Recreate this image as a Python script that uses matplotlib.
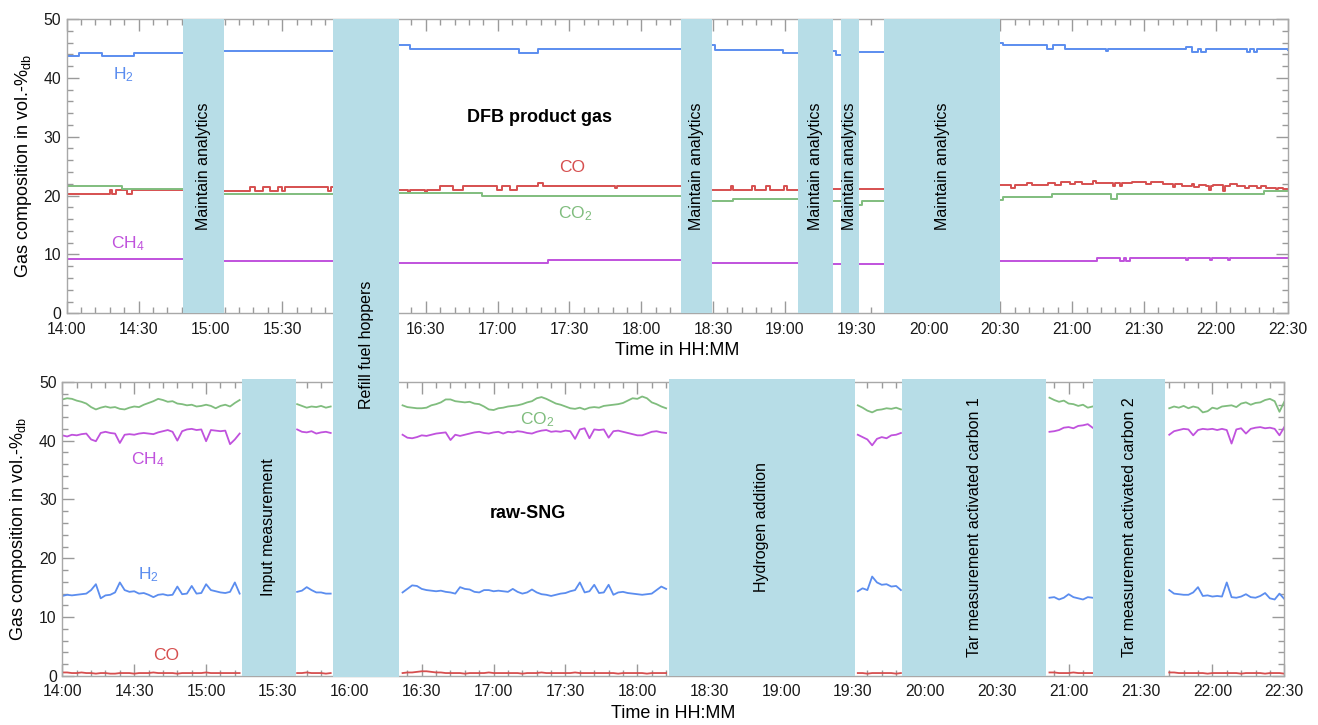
import numpy as np
import matplotlib
matplotlib.use("Agg")
import matplotlib.pyplot as plt
from matplotlib.patches import Rectangle
from matplotlib.ticker import MultipleLocator, FuncFormatter
from matplotlib.transforms import blended_transform_factory

N = np.nan
plt.rcParams['font.family'] = ['Liberation Sans', 'DejaVu Sans']
plt.rcParams['mathtext.fontset'] = 'custom'
plt.rcParams['mathtext.rm'] = 'Liberation Sans'
plt.rcParams['mathtext.it'] = 'Liberation Sans:italic'
plt.rcParams['mathtext.bf'] = 'Liberation Sans:bold'

# ---------------- data (time in minutes after 14:00) ----------------
# DFB product gas (step-like signals), NaN = gap
top_h2_t = [0, 5, 14.6, 28, 48.7, N, 65.6, 111.3, N, 138.9, 143.5, 189, 197, 256.6, N,
            269.6, 271, 299.3, 305.6, N, 319.9, 321.5, 323.3, N, 330.8, 341.5, N,
            389.9, 391, 409.4, 412, 417, 434, 435, 467.5, 469.9, 472.7, 474, 476,
            492.9, 494.2, 496, 497, 510]
top_h2_v = [43.7, 44.3, 43.7, 44.3, 44.3, N, 44.6, 44.6, N, 45.6, 44.9, 44.3, 44.9, 44.9, N,
            45.5, 44.8, 44.2, 44.2, N, 44.5, 43.9, 43.9, N, 44.4, 44.4, N,
            46.0, 45.6, 44.9, 45.6, 44.9, 44.5, 44.9, 45.3, 44.4, 44.9, 44.4, 44.9,
            44.4, 44.9, 44.4, 44.9, 44.7]

top_co_t = [0, 18.1, 19, 20.5, 25, 27.1, 48.7, N,
            65.6, 76.6, 78.7, 82.1, 84.9, 88.4, 89.8, 91.2, 109.3, 110.5, 111.3, N,
            138.9, 142.5, 143.3, 149.8, 150.6, 155.9, 161.5, 165.7, 179.6, 181.7, 185.2,
            188, 197, 199.1, 229, 229.8, 256.6, N,
            269.6, 277.5, 278.4, 286.3, 287.4, 292, 293.6, 299.6, 300.8, 305.6, N,
            319.9, 323.3, N, 330.8, 341.5, N,
            389.9, 394.5, 396, 401, 403, 410, 413, 415.5, 419, 421, 424, 428.5, 430, 436,
            437, 438, 440, 441, 445, 451, 453, 458, 462, 463, 466, 470, 471, 473, 476,
            477, 478, 479, 483, 484, 486, 489, 492, 494, 497, 499, 501, 505, 506, 508, 510]
top_co_v = [20.35, 20.9, 20.35, 20.9, 20.35, 20.9, 20.9, N,
            20.8, 21.4, 20.8, 21.4, 20.8, 21.4, 20.8, 21.4, 20.8, 21.4, 21.4, N,
            21.0, 20.6, 21.0, 20.6, 21.0, 21.6, 21.0, 21.6, 21.0, 21.6, 21.0,
            21.6, 22.2, 21.6, 21.2, 21.6, 21.6, N,
            21.0, 21.6, 21.0, 21.6, 21.0, 21.6, 21.0, 21.6, 21.0, 21.0, N,
            21.1, 21.1, N, 21.1, 21.1, N,
            21.8, 21.3, 21.8, 22.2, 21.8, 22.2, 21.8, 22.3, 21.9, 22.3, 22.0, 22.5, 22.2, 22.2,
            21.6, 22.1, 21.6, 22.2, 22.3, 21.9, 22.3, 22.0, 21.5, 22.0, 21.7, 22.0, 21.4, 21.8, 21.6,
            20.9, 21.6, 21.8, 20.8, 21.6, 22.0, 21.7, 21.3, 21.7, 21.3, 21.7, 21.2, 21.1, 21.3, 21.1, 21.0]

top_co2_t = [0, 22.9, 48.7, N, 65.6, 111.3, N, 138.9, 173.3, 256.6, N,
             269.6, 278.4, 305.6, N, 319.9, 323.3, N, 330.8, 332, 341.5, N,
             389.9, 391, 411.4, 436, 438.6, 500, 510]
top_co2_v = [21.65, 21.1, 21.1, N, 20.35, 20.35, N, 20.5, 19.9, 19.9, N,
             19.0, 19.5, 19.5, N, 19.1, 19.1, N, 18.4, 19.0, 19.0, N,
             19.2, 19.7, 20.2, 19.5, 20.2, 20.75, 20.75]

top_ch4_t = [0, 48.7, N, 65.6, 111.3, N, 138.9, 201, 256.6, N,
             269.6, 305.6, N, 319.9, 323.3, N, 330.8, 341.5, N,
             389.9, 430.3, 440, 441.5, 442.5, 444, 467.5, 468.3, 477.5, 478.3, 485, 485.8, 510]
top_ch4_v = [9.18, 9.18, N, 8.96, 8.96, N, 8.5, 9.0, 9.0, N,
             8.5, 8.5, N, 8.45, 8.45, N, 8.4, 8.4, N,
             8.84, 9.41, 8.9, 9.41, 8.9, 9.41, 9.0, 9.41, 9.0, 9.41, 9.0, 9.41, 9.41]

# raw-SNG (2-minute samples per measured segment)
sng_seg_start = [0, 98, 142, 332, 412, 462]
sng_h2 = [
    [13.6, 13.8, 13.7, 13.8, 13.9, 14.0, 14.6, 15.6, 13.2, 13.7, 13.8, 14.2, 15.9, 14.6, 14.3, 14.4,
     14.0, 14.1, 13.8, 13.4, 13.8, 13.9, 13.7, 13.8, 15.2, 13.9, 14.0, 15.3, 14.0, 14.1, 15.6, 14.6,
     14.4, 14.2, 14.1, 14.3, 15.9, 14.0],
    [14.3, 14.5, 15.1, 14.6, 14.2, 14.2, 14.0, 14.0],
    [14.2, 14.8, 15.4, 15.3, 14.8, 14.6, 14.5, 14.4, 14.5, 14.3, 14.2, 14.0, 15.1, 14.8, 14.7, 14.3,
     14.2, 14.6, 14.6, 14.4, 14.5, 14.4, 14.3, 14.8, 14.3, 14.0, 14.2, 14.7, 14.2, 13.9, 13.8, 13.6,
     13.8, 14.0, 14.1, 14.4, 14.6, 15.9, 14.2, 14.4, 15.5, 14.1, 14.2, 15.5, 13.8, 14.2, 14.3, 14.1,
     14.0, 13.9, 13.8, 13.9, 14.0, 14.6, 15.2, 14.8],
    [14.4, 14.9, 14.6, 16.9, 15.9, 15.5, 15.6, 15.2, 15.3, 14.6],
    [13.3, 13.4, 13.0, 13.3, 13.9, 13.4, 13.2, 13.0, 13.4, 13.3],
    [14.6, 14.0, 13.9, 13.8, 13.8, 14.2, 15.1, 13.6, 13.7, 13.5, 13.6, 13.5, 15.9, 13.4, 13.3, 13.5,
     13.9, 13.4, 13.3, 13.6, 14.1, 13.2, 13.0, 14.0, 13.1],
]
sng_co2 = [
    [47.0, 47.2, 47.1, 46.8, 46.6, 46.3, 45.7, 45.3, 45.6, 45.8, 45.6, 45.7, 45.4, 45.3, 45.6, 45.8,
     45.7, 46.1, 46.4, 46.7, 47.1, 46.9, 46.6, 46.7, 46.3, 46.2, 46.0, 46.1, 45.8, 45.9, 46.1, 45.9,
     45.5, 45.9, 46.1, 45.8, 46.4, 46.9],
    [46.2, 45.9, 45.6, 45.8, 45.7, 45.9, 45.6, 45.8],
    [46.0, 45.7, 45.6, 45.5, 45.5, 45.6, 46.0, 46.2, 46.5, 47.0, 47.0, 46.7, 46.6, 46.5, 46.6, 46.3,
     46.2, 45.8, 45.3, 45.2, 45.5, 45.6, 45.8, 45.9, 46.0, 46.2, 46.5, 46.7, 47.2, 47.4, 47.1, 46.7,
     46.3, 46.1, 45.8, 45.5, 45.4, 45.6, 45.3, 45.6, 45.7, 45.6, 45.9, 46.0, 46.1, 46.2, 46.4, 46.8,
     47.2, 47.1, 47.5, 47.2, 46.5, 46.2, 45.8, 45.5],
    [46.0, 45.6, 45.1, 44.8, 45.2, 45.3, 45.5, 45.4, 45.6, 45.3],
    [47.3, 46.9, 46.6, 46.8, 46.3, 46.2, 45.9, 46.1, 45.6, 45.8],
    [45.5, 45.8, 45.6, 45.9, 45.5, 45.8, 45.6, 44.8, 45.0, 45.6, 45.4, 45.8, 45.9, 46.0, 45.7, 46.3,
     46.5, 46.1, 46.4, 46.5, 46.9, 47.1, 46.7, 44.9, 46.6],
]
sng_ch4 = [
    [40.9, 40.7, 41.0, 40.9, 41.1, 41.2, 40.2, 39.9, 41.3, 41.5, 41.3, 41.2, 39.6, 41.0, 41.1, 41.0,
     41.2, 41.3, 41.2, 41.1, 41.4, 41.6, 41.8, 41.5, 40.0, 41.6, 41.9, 42.0, 41.8, 41.9, 39.9, 41.8,
     41.7, 41.6, 41.7, 39.4, 40.2, 41.2],
    [41.9, 41.5, 41.4, 41.6, 41.2, 41.4, 41.5, 41.3],
    [41.0, 40.5, 40.4, 40.6, 40.9, 40.8, 41.0, 41.2, 41.3, 41.4, 40.1, 41.0, 40.8, 41.0, 41.2, 41.4,
     41.5, 41.3, 41.2, 41.4, 41.5, 41.2, 41.5, 41.4, 41.6, 41.5, 41.3, 41.2, 41.5, 41.7, 41.8, 41.5,
     41.6, 41.5, 41.7, 41.6, 40.3, 41.9, 42.1, 40.4, 41.9, 41.8, 41.9, 40.5, 41.6, 41.7, 41.5, 41.3,
     41.1, 40.9, 40.9, 41.2, 41.5, 41.6, 41.4, 41.3],
    [41.0, 40.6, 40.2, 39.2, 40.3, 40.6, 40.4, 40.9, 41.0, 41.3],
    [41.5, 41.6, 41.8, 42.2, 42.3, 42.1, 42.5, 42.6, 42.8, 42.2],
    [41.0, 41.6, 41.8, 42.0, 41.9, 40.9, 41.8, 42.0, 41.9, 42.0, 41.8, 42.0, 41.8, 39.5, 41.9, 42.1,
     41.2, 42.0, 42.2, 42.3, 42.1, 42.2, 42.0, 40.9, 42.3],
]
sng_co = [
    [0.6, 0.6, 0.5, 0.5, 0.6, 0.5, 0.5, 0.4, 0.5, 0.5, 0.4, 0.4, 0.5, 0.5, 0.5, 0.4,
     0.5, 0.5, 0.5, 0.6, 0.5, 0.5, 0.5, 0.5, 0.4, 0.5, 0.5, 0.5, 0.5, 0.5, 0.6, 0.5,
     0.5, 0.5, 0.5, 0.5, 0.5, 0.5],
    [0.5, 0.5, 0.6, 0.5, 0.5, 0.5, 0.4, 0.5],
    [0.5, 0.6, 0.6, 0.7, 0.8, 0.8, 0.7, 0.6, 0.6, 0.5, 0.5, 0.5, 0.5, 0.4, 0.5, 0.5,
     0.5, 0.5, 0.6, 0.5, 0.5, 0.5, 0.5, 0.5, 0.5, 0.4, 0.5, 0.5, 0.5, 0.6, 0.5, 0.5,
     0.5, 0.5, 0.5, 0.5, 0.6, 0.5, 0.5, 0.5, 0.5, 0.5, 0.5, 0.5, 0.5, 0.4, 0.5, 0.5,
     0.5, 0.5, 0.5, 0.4, 0.5, 0.5, 0.5, 0.5],
    [0.5, 0.5, 0.4, 0.5, 0.5, 0.5, 0.5, 0.5, 0.4, 0.5],
    [0.6, 0.6, 0.5, 0.5, 0.5, 0.6, 0.5, 0.5, 0.5, 0.5],
    [0.6, 0.6, 0.5, 0.5, 0.5, 0.5, 0.5, 0.5, 0.4, 0.5, 0.5, 0.5, 0.5, 0.5, 0.5, 0.4,
     0.5, 0.5, 0.5, 0.5, 0.4, 0.5, 0.5, 0.5, 0.4],
]

# operating events (start, end in minutes after 14:00)
top_bands = [(48.7, 65.6), (256.6, 269.6), (305.6, 319.9), (323.3, 330.8), (341.5, 389.9)]
top_band_labels = ['Maintain analytics'] * 5
refill_band = (111.3, 138.9)
refill_label = 'Refill fuel hoppers'
bot_bands = [(74.9, 97.4), (253.1, 330.7), (350.6, 410.6), (430.1, 460.3)]
bot_band_labels = ['Input measurement', 'Hydrogen addition',
                   'Tar measurement activated carbon 1', 'Tar measurement activated carbon 2']

# ---------------- styling ----------------
C_H2 = '#5b8def'
C_CO = '#d64f4f'
C_CO2 = '#80bd7e'
C_CH4 = '#c052dd'
C_BAND = '#b7dde7'

fig = plt.figure(figsize=(13.18, 7.25), dpi=100)
ax1 = fig.add_axes([0.0506, 0.5679, 0.9264, 0.4059])
ax2 = fig.add_axes([0.0473, 0.0676, 0.9271, 0.4058])


def hhmm(m, pos=None):
    m = int(round(m))
    return f"{14 + m // 60}:{m % 60:02d}"


def hhmm_top(m, pos=None):
    # the 16:00 label of the upper panel lies under the refill band
    if refill_band[0] < m < refill_band[1]:
        return ''
    return hhmm(m)


def style(ax, fmt):
    ax.set_xlim(0, 510)
    ax.set_ylim(0, 50)
    ax.xaxis.set_major_locator(MultipleLocator(30))
    ax.xaxis.set_minor_locator(MultipleLocator(6))
    ax.yaxis.set_major_locator(MultipleLocator(10))
    ax.yaxis.set_minor_locator(MultipleLocator(2))
    ax.xaxis.set_major_formatter(FuncFormatter(fmt))
    ax.tick_params(which='both', direction='in', top=True, right=True,
                   color='#9a9a9a', width=1)
    ax.tick_params(which='major', length=8.5, labelsize=11.3, labelcolor='#1a1a1a')
    ax.tick_params(axis='x', which='major', pad=6)
    ax.tick_params(axis='y', which='major', pad=4)
    ax.tick_params(which='minor', length=4.3)
    for s in ax.spines.values():
        s.set_color('#a8a8a8')
        s.set_linewidth(1)
    ax.set_xlabel('Time in HH:MM', fontsize=13, labelpad=4)
    ax.set_ylabel('Gas composition in vol.-%$_{\\mathrm{db}}$', fontsize=13, labelpad=7)


style(ax1, hhmm_top)
style(ax2, hhmm)

# top panel lines
lw = 1.4
ax1.plot(top_h2_t, top_h2_v, color=C_H2, lw=lw, drawstyle='steps-post', zorder=2)
ax1.plot(top_co_t, top_co_v, color=C_CO, lw=lw, drawstyle='steps-post', zorder=2)
ax1.plot(top_co2_t, top_co2_v, color=C_CO2, lw=lw, drawstyle='steps-post', zorder=2)
ax1.plot(top_ch4_t, top_ch4_v, color=C_CH4, lw=lw, drawstyle='steps-post', zorder=2)

# bottom panel lines
for series, col in [(sng_co2, C_CO2), (sng_ch4, C_CH4), (sng_h2, C_H2), (sng_co, C_CO)]:
    for t0, vals in zip(sng_seg_start, series):
        t = t0 + 2 * np.arange(len(vals))
        ax2.plot(t, vals, color=col, lw=1.3, zorder=2)

# bands
for (a, b), lab in zip(top_bands, top_band_labels):
    ax1.add_patch(Rectangle((a, 0), b - a, 50, facecolor=C_BAND, lw=0, zorder=3))
    ax1.text((a + b) / 2, 25, lab, rotation=90, ha='center', va='center',
             fontsize=11.5, zorder=4)
for (a, b), lab in zip(bot_bands, bot_band_labels):
    ax2.add_patch(Rectangle((a, 0), b - a, 50.45, facecolor=C_BAND, lw=0, zorder=3,
                            clip_on=False))
    ax2.text((a + b) / 2, 25.3, lab, rotation=90, ha='center', va='center',
             fontsize=11.5, zorder=4)

# refill band spans both panels
tr = blended_transform_factory(ax1.transData, fig.transFigure)
y_lo = 1 - 676.5 / 725
y_hi = 1 - 19 / 725
fig.add_artist(Rectangle((refill_band[0], y_lo), refill_band[1] - refill_band[0], y_hi - y_lo,
                         transform=tr, facecolor=C_BAND, lw=0, zorder=5))
fig.text((refill_band[0] + refill_band[1]) / 2, 1 - 345 / 725, refill_label, transform=tr,
         rotation=90, ha='center', va='center', fontsize=11.5, zorder=6)

# species labels
fs = 12.5
ax1.text(23.5, 40.5, 'H$_2$', color=C_H2, fontsize=fs, ha='center', va='center')
ax1.text(25.6, 11.9, 'CH$_4$', color=C_CH4, fontsize=fs, ha='center', va='center')
ax1.text(211, 24.7, 'CO', color=C_CO, fontsize=fs, ha='center', va='center')
ax1.text(212.3, 17.0, 'CO$_2$', color=C_CO2, fontsize=fs, ha='center', va='center')
ax1.text(197.3, 33.3, 'DFB product gas', fontsize=13, fontweight='bold', ha='center', va='center')

ax2.text(198.1, 43.5, 'CO$_2$', color=C_CO2, fontsize=fs, ha='center', va='center')
ax2.text(35.8, 36.7, 'CH$_4$', color=C_CH4, fontsize=fs, ha='center', va='center')
ax2.text(35.8, 17.2, 'H$_2$', color=C_H2, fontsize=fs, ha='center', va='center')
ax2.text(43.3, 3.4, 'CO', color=C_CO, fontsize=fs, ha='center', va='center')
ax2.text(194.4, 27.7, 'raw-SNG', fontsize=13, fontweight='bold', ha='center', va='center')

fig.savefig('out.png', dpi=100)
